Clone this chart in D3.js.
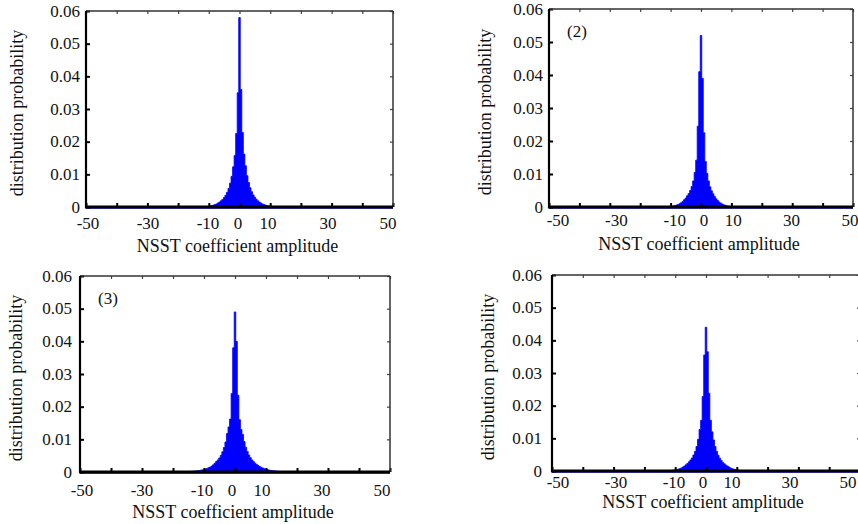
<!DOCTYPE html>
<html>
<head>
<meta charset="utf-8">
<script src="https://cdn.jsdelivr.net/npm/d3@7"></script>
<style>
  body { margin: 0; background: #fff; }
</style>
</head>
<body>
<script>
const serif = "'Liberation Serif', 'Times New Roman', 'DejaVu Serif', serif";

// bin centres of the coefficient histograms
const amplitude = [-15,-14.5,-14,-13.5,-13,-12.5,-12,-11.5,-11,-10.5,-10,-9.5,-9,-8.5,-8,-7.5,-7,-6.5,-6,-5.5,-5,-4.5,-4,-3.5,-3,-2.5,-2,-1.5,-1,-0.5,
  0,
  0.5,1,1.5,2,2.5,3,3.5,4,4.5,5,5.5,6,6.5,7,7.5,8,8.5,9,9.5,10,10.5,11,11.5,12,12.5,13,13.5,14,14.5,15];

// distribution probability
const prob1 = [0.00001,0.00002,0.00002,0.00003,0.00004,0.00006,0.00008,0.00011,0.00015,0.0002,0.00026,0.00034,0.00044,0.00057,0.00074,0.00094,0.0012,0.0015,0.0019,0.0023,0.0029,0.0036,0.0045,0.0057,0.0073,0.0094,0.0123,0.0158,0.0225,0.035,
  0.058,
  0.036,0.0228,0.0162,0.0126,0.0096,0.0075,0.0059,0.0047,0.0037,0.003,0.0024,0.0019,0.0015,0.0012,0.00095,0.00075,0.00058,0.00045,0.00034,0.00026,0.0002,0.00015,0.00011,0.00008,0.00006,0.00004,0.00003,0.00002,0.00002,0.00001];

const prob2 = [0.00001,0.00001,0.00002,0.00002,0.00003,0.00004,0.00005,0.00007,0.0001,0.00013,0.00018,0.00024,0.00032,0.00044,0.00058,0.00076,0.001,0.0013,0.0017,0.0022,0.0027,0.0034,0.0041,0.005,0.0062,0.0079,0.0105,0.0142,0.0245,0.041,
  0.052,
  0.039,0.0225,0.0138,0.0102,0.0079,0.0061,0.0049,0.004,0.0032,0.0025,0.002,0.0015,0.0012,0.0009,0.00066,0.0005,0.00036,0.00026,0.00019,0.00014,0.0001,0.00007,0.00005,0.00004,0.00003,0.00002,0.00002,0.00001,0.00001,0.00001];

const prob3 = [0.00014,0.00017,0.0002,0.00024,0.00028,0.00033,0.00039,0.00046,0.00055,0.00065,0.00078,0.00093,0.0011,0.0013,0.0015,0.0018,0.0022,0.0027,0.0032,0.0037,0.0043,0.0051,0.0062,0.0075,0.0092,0.0118,0.0138,0.0162,0.024,0.038,
  0.049,
  0.040,0.0235,0.016,0.013,0.0115,0.0093,0.0076,0.0063,0.0052,0.0044,0.0037,0.0032,0.0027,0.0023,0.002,0.0017,0.0014,0.0012,0.001,0.00085,0.0007,0.0006,0.0005,0.00042,0.00036,0.0003,0.00025,0.0002,0.00017,0.00014];

const prob4 = [0.00002,0.00003,0.00004,0.00005,0.00007,0.00009,0.00012,0.00016,0.0002,0.00026,0.00034,0.00044,0.00056,0.00072,0.00092,0.0012,0.0015,0.0019,0.0023,0.0028,0.0034,0.004,0.0049,0.006,0.0075,0.0097,0.0127,0.0155,0.0228,0.0355,
  0.044,
  0.0365,0.0238,0.0155,0.012,0.0095,0.0075,0.006,0.0048,0.0039,0.0032,0.0026,0.0022,0.0018,0.0015,0.0012,0.00093,0.00072,0.00056,0.00044,0.00034,0.00026,0.0002,0.00016,0.00012,0.00009,0.00007,0.00005,0.00004,0.00003,0.00002];

const xTicks = [-50,-40,-30,-20,-10,0,10,20,30,40,50];
const xTickLabels = [-50,-30,-10,0,10,30,50];
const yTicks = [0,0.01,0.02,0.03,0.04,0.05,0.06];
const panelTags = ["", "(2)", "(3)", ""];

const xTitle = "NSST coefficient amplitude";
const yTitle = "distribution probability";

// layout of the four scanned panels
const panels = [
  {data: prob1, tag: panelTags[0], l: 86,  r: 393, t: 11,  b: 207, labL: 88,  labR: 388, labDy: 22, titleDy: 45, yTitleX: 17,  ylabPad: 6},
  {data: prob2, tag: panelTags[1], l: 549, r: 853, t: 9,   b: 207, labL: 558, labR: 850, labDy: 19, titleDy: 43, yTitleX: 485, ylabPad: 6},
  {data: prob3, tag: panelTags[2], l: 80,  r: 390, t: 276, b: 472, labL: 82,  labR: 382, labDy: 24, titleDy: 46, yTitleX: 16,  ylabPad: 8},
  {data: prob4, tag: panelTags[3], l: 552, r: 860, t: 275, b: 471, labL: 558, labR: 848, labDy: 17, titleDy: 37, yTitleX: 488, ylabPad: 10}
];

const svg = d3.select("body").append("svg")
    .attr("width", 858)
    .attr("height", 524);

panels.forEach(function(p, i){

    const x = d3.scaleLinear().domain([-50, 50]).range([p.l, p.r]);
    const y = d3.scaleLinear().domain([0, 0.06]).range([p.b, p.t]);
    const xLab = d3.scaleLinear().domain([-50, 50]).range([p.labL, p.labR]);

    const g = svg.append("g").attr("class", "panel" + i);

    g.append("clipPath").attr("id", "clip" + i)
        .append("rect")
        .attr("x", p.l).attr("y", p.t)
        .attr("width", p.r - p.l).attr("height", p.b - p.t);

    // histogram as one stepped area
    const series = amplitude.map((a, k) => ({a: a, v: p.data[k]}));
    const area = d3.area()
        .curve(d3.curveStep)
        .x(d => x(d.a))
        .y0(y(0))
        .y1(d => y(d.v));

    g.append("path")
        .datum(series)
        .attr("clip-path", "url(#clip" + i + ")")
        .attr("fill", "#0000ff")
        .attr("stroke", "#0000ff")
        .attr("stroke-width", 0.8)
        .attr("d", area);

    // faint blue baseline under the histogram
    g.append("line")
        .attr("x1", p.l).attr("x2", p.r)
        .attr("y1", y(0) + 1.5).attr("y2", y(0) + 1.5)
        .attr("stroke", "#5050ff").attr("stroke-width", 1);

    // ----- inward ticks on all four sides -----
    const bottom = g.append("g").attr("transform", "translate(0," + p.b + ")")
        .call(d3.axisBottom(x).tickValues(xTicks).tickSizeInner(-4).tickSizeOuter(0).tickFormat(""));
    const top = g.append("g").attr("transform", "translate(0," + p.t + ")")
        .call(d3.axisTop(x).tickValues(xTicks).tickSizeInner(-3).tickSizeOuter(0).tickFormat(""));
    const left = g.append("g").attr("transform", "translate(" + p.l + ",0)")
        .call(d3.axisLeft(y).tickValues(yTicks).tickSizeInner(-4).tickSizeOuter(0).tickPadding(p.ylabPad)
            .tickFormat(d => d === 0 ? "0" : d3.format(".2f")(d)));
    const right = g.append("g").attr("transform", "translate(" + p.r + ",0)")
        .call(d3.axisRight(y).tickValues(yTicks).tickSizeInner(-3).tickSizeOuter(0).tickFormat(""));

    [bottom, top, left, right].forEach(a => a.select(".domain").remove());
    bottom.selectAll("line").attr("stroke", "#000").attr("stroke-width", 2);
    left.selectAll("line").attr("stroke", "#000").attr("stroke-width", 2);
    top.selectAll("line").attr("stroke", "#444").attr("stroke-width", 1.2);
    right.selectAll("line").attr("stroke", "#444").attr("stroke-width", 1.2);

    left.attr("font-family", null).attr("font-size", null);
    left.selectAll("text")
        .attr("dy", "0.3em")
        .style("font-family", serif)
        .style("font-size", "17px")
        .style("fill", "#111");

    // frame
    g.append("line").attr("x1", p.l).attr("x2", p.r).attr("y1", p.t).attr("y2", p.t)
        .attr("stroke", "#333").attr("stroke-width", 1.5);
    g.append("line").attr("x1", p.r).attr("x2", p.r).attr("y1", p.t).attr("y2", p.b)
        .attr("stroke", "#333").attr("stroke-width", 1.5);
    g.append("line").attr("x1", p.l).attr("x2", p.l).attr("y1", p.t).attr("y2", p.b + 1)
        .attr("stroke", "#000").attr("stroke-width", 2.2);
    g.append("line").attr("x1", p.l - 1).attr("x2", p.r).attr("y1", p.b).attr("y2", p.b)
        .attr("stroke", "#000").attr("stroke-width", 2.8);

    // x tick labels (the scan places them on a slightly different spacing)
    g.selectAll(".xlab")
        .data(xTickLabels)
        .enter()
        .append("text")
        .attr("class", "xlab")
        .attr("x", d => xLab(d))
        .attr("y", p.b + p.labDy)
        .attr("text-anchor", "middle")
        .style("font-family", serif)
        .style("font-size", "17px")
        .style("fill", "#111")
        .text(d => d);

    // axis titles
    g.append("text")
        .attr("x", (p.l + Math.min(p.r, 858)) / 2 - 2)
        .attr("y", p.b + p.titleDy)
        .attr("text-anchor", "middle")
        .style("font-family", serif)
        .style("font-size", "18px")
        .style("fill", "#111")
        .text(xTitle);

    g.append("text")
        .attr("transform", "translate(" + p.yTitleX + "," + ((p.t + p.b) / 2 + 4) + ") rotate(-90)")
        .attr("text-anchor", "middle")
        .attr("dy", "0.35em")
        .style("font-family", serif)
        .style("font-size", "18px")
        .style("fill", "#111")
        .text(yTitle);

    if (p.tag) {
        g.append("text")
            .attr("x", p.l + 18)
            .attr("y", p.t + 28)
            .style("font-family", serif)
            .style("font-size", "17px")
            .style("fill", "#111")
            .text(p.tag);
    }
});
</script>
</body>
</html>
